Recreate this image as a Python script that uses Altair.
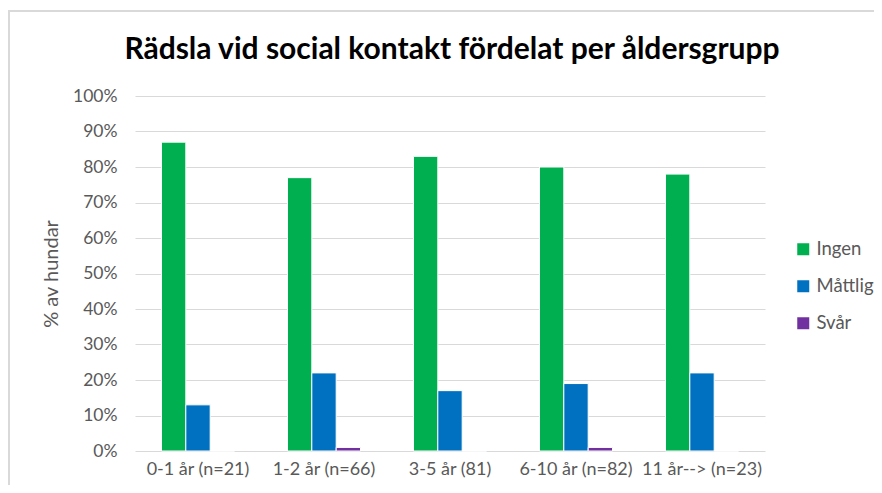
import altair as alt
import pandas as pd

categories = ["0-1 år (n=21)", "1-2 år (n=66)", "3-5 år (81)", "6-10 år (n=82)", "11 år--> (n=23)"]
series = ["Ingen", "Måttlig", "Svår"]
ingen = [87, 77, 83, 80, 78]
mattlig = [13, 22, 17, 19, 22]
svar = [0, 1, 0, 1, 0]
colors = ["#00B050", "#0070C0", "#7030A0"]
title_text = "Rädsla vid social kontakt fördelat per åldersgrupp"

rows = []
for i, c in enumerate(categories):
    for s, vals in zip(series, [ingen, mattlig, svar]):
        rows.append({"Åldersgrupp": c, "Serie": s, "Värde": vals[i] / 100})
df = pd.DataFrame(rows)

FONT = "Lato"
GRAY = "#595959"

bars = alt.Chart(df).mark_bar(stroke="white", strokeWidth=1).encode(
    x=alt.X("Åldersgrupp:N", sort=categories,
            scale=alt.Scale(paddingInner=0.42, paddingOuter=0.21),
            axis=alt.Axis(title=None, labelAngle=0, labelFontSize=18, labelColor=GRAY,
                          labelFont=FONT, ticks=False, domain=False, labelPadding=9)),
    xOffset=alt.XOffset("Serie:N", sort=series, scale=alt.Scale(paddingInner=0.0)),
    y=alt.Y("Värde:Q", scale=alt.Scale(domain=[0, 1]),
            axis=alt.Axis(format="%", values=[i / 10 for i in range(11)], title="% av hundar",
                          titleFontSize=20, titleColor=GRAY, titleFont=FONT, titleFontWeight="normal",
                          labelFontSize=17.5, labelColor=GRAY, labelFont=FONT, ticks=False,
                          domain=False, labelPadding=18, titlePadding=11,
                          gridColor="#d9d9d9", gridWidth=1)),
    color=alt.Color("Serie:N", sort=series, scale=alt.Scale(domain=series, range=colors),
                    legend=alt.Legend(title=None, orient="none", legendX=659, legendY=144,
                                      symbolType="square", symbolSize=144, symbolStrokeWidth=0,
                                      labelFontSize=18.5, labelColor=GRAY, labelFont=FONT,
                                      rowPadding=18, labelOffset=4)),
)

frame = alt.Chart(pd.DataFrame({"a": [0]})).mark_rect(
    fill=None, stroke="#d9d9d9", strokeWidth=2
).encode(x=alt.value(-126), x2=alt.value(760), y=alt.value(-85), y2=alt.value(420))

title = alt.Chart(pd.DataFrame({"t": [title_text]})).mark_text(
    font=FONT, fontSize=30, fontWeight="bold", color="#000000",
    align="center", baseline="middle"
).encode(text="t:N", x=alt.value(317), y=alt.value(-46))

chart = alt.layer(frame, title, bars).properties(
    width=630, height=355,
    autosize=alt.AutoSizeParams(type="none"),
    padding={"left": 127, "top": 88, "right": 109, "bottom": 34},
).configure_view(stroke=None).configure_axisX(grid=False)

chart.save("out.html", embed_options={"renderer": "svg", "actions": False})
